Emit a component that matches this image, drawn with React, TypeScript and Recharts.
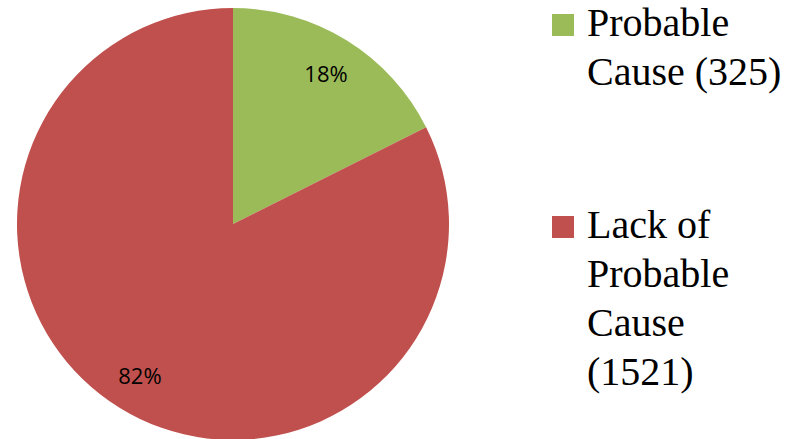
import { PieChart, Pie, Cell } from "recharts";

const categories = ["Probable Cause", "Lack of Probable Cause"];
const counts = [325, 1521];
const colors = ["#9BBB59", "#C0504D"];

const total = counts.reduce((a, b) => a + b, 0);
const chartData = categories.map((name, i) => ({ name, value: counts[i] }));

const RADIAN = Math.PI / 180;

// percentage label inside each slice, like the spreadsheet original
function renderLabel(props: any) {
  const { cx, cy, midAngle, outerRadius, value } = props;
  const r = outerRadius * 0.82;
  const x = cx + r * Math.cos(-midAngle * RADIAN);
  const y = cy + r * Math.sin(-midAngle * RADIAN);
  return (
    <text
      x={x}
      y={y}
      fill="#000"
      fontSize={22}
      fontFamily="Open Sans"
      textAnchor="middle"
      dominantBaseline="central"
    >
      {Math.round((value / total) * 100)}%
    </text>
  );
}

function ChartLegend() {
  const tops = [-2, 200];
  return (
    <>
      {chartData.map((d, i) => (
        <div
          key={d.name}
          style={{
            position: "absolute",
            left: 552,
            top: tops[i],
            display: "flex",
            alignItems: "flex-start",
          }}
        >
          <div
            style={{
              width: 22,
              height: 22,
              background: colors[i],
              marginTop: 16,
              marginRight: 13,
            }}
          />
          <div
            style={{
              width: 205,
              fontFamily: "Liberation Serif",
              fontSize: 40,
              lineHeight: "49px",
              color: "#000",
            }}
          >
            {d.name} ({d.value})
          </div>
        </div>
      ))}
    </>
  );
}

export default function App() {
  return (
    <div style={{ position: "relative", width: 803, height: 439, background: "#fff", overflow: "hidden" }}>
      <style>{"body{margin:0}"}</style>
      <PieChart width={803} height={439} margin={{ top: 0, right: 0, bottom: 0, left: 0 }}>
        <Pie
          data={chartData}
          dataKey="value"
          nameKey="name"
          cx={233}
          cy={224}
          outerRadius={216}
          startAngle={90}
          endAngle={-270}
          stroke="none"
          label={renderLabel}
          labelLine={false}
          isAnimationActive={false}
        >
          {chartData.map((d, i) => (
            <Cell key={d.name} fill={colors[i]} />
          ))}
        </Pie>
      </PieChart>
      <ChartLegend />
    </div>
  );
}
